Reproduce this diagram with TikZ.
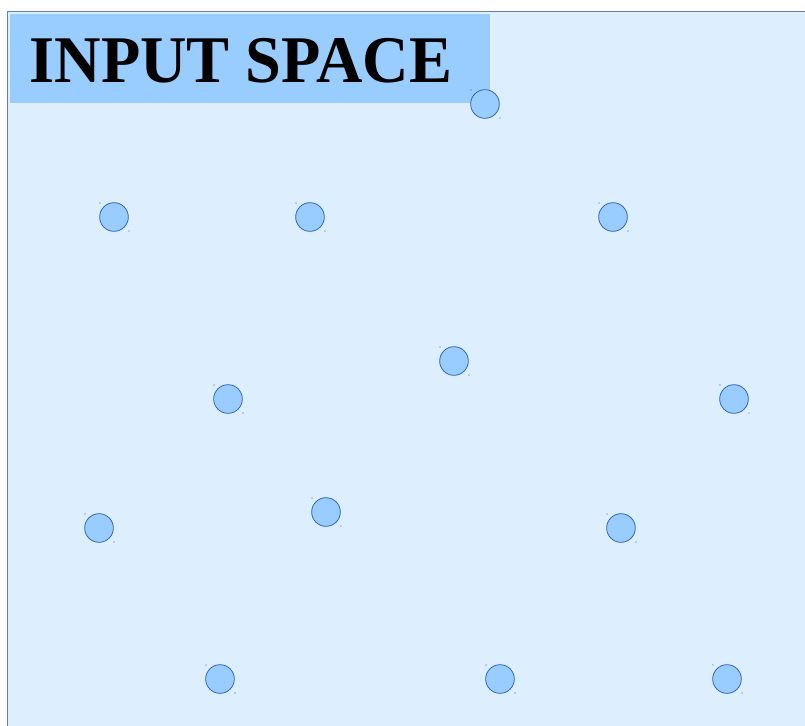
\documentclass[tikz,border=0pt]{standalone}
\usepackage{fontspec}
\setmainfont{Liberation Serif}
\definecolor{bgblue}{HTML}{DDEEFF}
\definecolor{hdrblue}{HTML}{99CCFF}
\definecolor{edgeblue}{HTML}{3366BB}
\definecolor{frame}{HTML}{6A7F9F}
\begin{document}
\begin{tikzpicture}[x=0.75pt,y=-0.75pt,
  pt/.style={circle,draw=edgeblue,fill=hdrblue,line width=0.6pt,minimum size=21.5pt,inner sep=0pt},
  handle/.style={fill=edgeblue,inner sep=0pt,minimum size=0.9pt,circle}]
\useasboundingbox (0,0) rectangle (805,725);
\begin{scope}
\clip (0,0) rectangle (805,725);
\draw[frame,fill=bgblue,line width=0.7pt] (7.5,11.5) rectangle (812,732);
\end{scope}
\fill[hdrblue] (10,14) rectangle (490,103);
\node[anchor=base west,inner sep=0pt,font=\fontsize{50}{60}\selectfont\bfseries] (title) at (29.5,82) {\scalebox{0.965}[1]{INPUT SPACE}};
\foreach \i/\x/\y in {1/485/104,2/114/217,3/310/217,4/613/217,5/454/361,6/228/399,7/734/399,8/99/528,9/326/512,10/621/528,11/220/679,12/500/679,13/727/679}{
  \node[pt] (c\i) at (\x,\y) {};
  \node[handle] (h\i a) at (\x-14,\y-14) {};
  \node[handle] (h\i b) at (\x+15,\y+14) {};
}
\end{tikzpicture}
\end{document}
